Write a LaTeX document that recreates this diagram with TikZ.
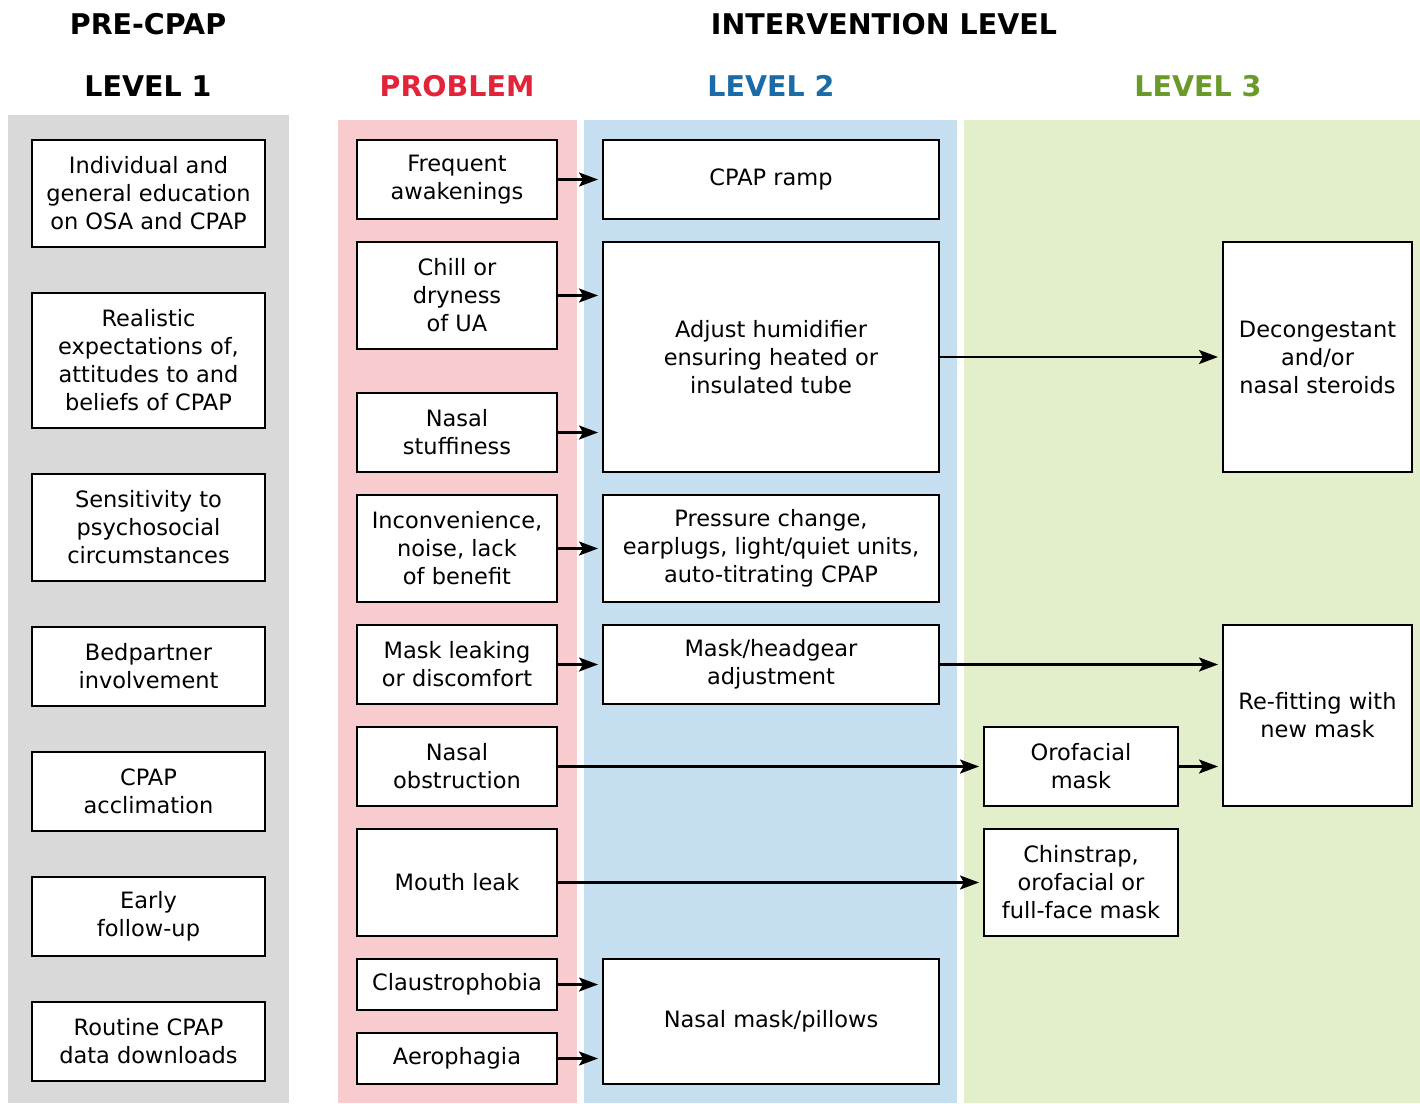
\documentclass[tikz,border=0pt]{standalone}
\usepackage{fontspec}
\setmainfont{DejaVu Sans}
\usepackage{tikz}
\usetikzlibrary{arrows.meta, positioning}
\definecolor{greycol}{HTML}{D9D9D9}
\definecolor{pinkcol}{HTML}{F8CBCF}
\definecolor{bluecol}{HTML}{C5DFF0}
\definecolor{greencol}{HTML}{E2EFCA}
\definecolor{probred}{HTML}{E2243A}
\definecolor{lvltwoblue}{HTML}{1B6BA6}
\definecolor{lvlthreegreen}{HTML}{6A9A2A}

\begin{document}
\begin{tikzpicture}[
    x=1pt, y=-1pt,
    node distance=23pt,
    head/.style={font=\fontsize{28.5}{32}\selectfont\bfseries},
    box/.style={
        rectangle, draw=black, fill=white, line width=2.2pt, outer sep=0pt,
        inner sep=0pt, align=center, font=\fontsize{22.5}{28}\selectfont
    },
    lone/.style={box, minimum width=233pt},
    pbox/.style={box, minimum width=200pt},
    ltwo/.style={box, minimum width=336pt},
    lthree/.style={box, minimum width=194pt},
    arrow/.style={-{Stealth[length=19pt, width=14pt, inset=4pt]}, line width=2.2pt, shorten >=5pt}
]
    \useasboundingbox (0,0) rectangle (1420,1103);
    \fill[greycol] (8,115) rectangle (289,1103);
    \fill[pinkcol] (338,120) rectangle (577,1103);
    \fill[bluecol] (584,120) rectangle (957,1103);
    \fill[greencol] (964,120) rectangle (1420,1103);

    \node[head] (precpap) at (148,24) {PRE-CPAP};
    \node[head] (intlevel) at (884,24) {INTERVENTION LEVEL};
    \node[head] (lvlone) at (148,86) {LEVEL 1};
    \node[head, text=probred] (problem) at (457,86) {PROBLEM};
    \node[head, text=lvltwoblue] (lvltwo) at (771,86) {LEVEL 2};
    \node[head, text=lvlthreegreen] (lvlthree) at (1198,86) {LEVEL 3};

    \node[lone, minimum height=107pt, anchor=north] (edu) at (148.5,140) {Individual and\\general education\\on OSA and CPAP};
    \node[lone, minimum height=135pt, below=46pt of edu] (expect) {Realistic\\expectations of,\\attitudes to and\\beliefs of CPAP};
    \node[lone, minimum height=107pt, below=46pt of expect] (psycho) {Sensitivity to\\psychosocial\\circumstances};
    \node[lone, minimum height=79pt, below=46pt of psycho] (partner) {Bedpartner\\involvement};
    \node[lone, minimum height=79pt, below=46pt of partner] (acclim) {CPAP\\acclimation};
    \node[lone, minimum height=79pt, below=46pt of acclim] (followup) {Early\\follow-up};
    \node[lone, minimum height=79pt, below=46pt of followup] (download) {Routine CPAP\\data downloads};

    \node[pbox, minimum height=79pt, anchor=north] (freq) at (457,140) {Frequent\\awakenings};
    \node[pbox, minimum height=107pt, below=of freq] (chill) {Chill or\\dryness\\of UA};
    \node[pbox, minimum height=79pt, below=44pt of chill] (stuff) {Nasal\\stuffiness};
    \node[pbox, minimum height=107pt, below=of stuff] (incon) {Inconvenience,\\noise, lack\\of benefit};
    \node[pbox, minimum height=79pt, below=of incon] (leak) {Mask leaking\\or discomfort};
    \node[pbox, minimum height=79pt, below=of leak] (obstr) {Nasal\\obstruction};
    \node[pbox, minimum height=107pt, below=of obstr] (mouth) {Mouth leak};
    \node[pbox, minimum height=51pt, below=of mouth] (claus) {Claustrophobia};
    \node[pbox, minimum height=51pt, below=of claus] (aero) {Aerophagia};

    \node[ltwo, minimum height=79pt, right=46pt of freq] (ramp) {CPAP ramp};
    \node[ltwo, minimum height=230pt, right=46pt of chill.north east, anchor=north west] (humid) {Adjust humidifier\\ensuring heated or\\insulated tube};
    \node[ltwo, minimum height=107pt, right=46pt of incon] (press) {Pressure change,\\earplugs, light/quiet units,\\auto-titrating CPAP};
    \node[ltwo, minimum height=79pt, right=46pt of leak] (headgear) {Mask/headgear\\adjustment};
    \node[ltwo, minimum height=125pt, right=46pt of claus.north east, anchor=north west] (nmask) {Nasal mask/pillows};

    \node[lthree, minimum height=79pt, right=427pt of obstr] (oro) {Orofacial\\mask};
    \node[lthree, minimum height=107pt, right=427pt of mouth] (chin) {Chinstrap,\\orofacial or\\full-face mask};
    \node[lthree, minimum width=189pt, minimum height=230pt, right=284pt of humid] (decong) {Decongestant\\and/or\\nasal steroids};
    \node[lthree, minimum width=189pt, minimum height=181pt, right=284pt of headgear.north east, anchor=north west] (refit) {Re-fitting with\\new mask};

    \draw[arrow] (freq) -- (ramp);
    \draw[arrow] (chill) -- (chill -| humid.west);
    \draw[arrow] (stuff) -- (stuff -| humid.west);
    \draw[arrow] (incon) -- (press);
    \draw[arrow] (leak) -- (headgear);
    \draw[arrow] (humid) -- (decong);
    \draw[arrow] (headgear) -- (headgear -| refit.west);
    \draw[arrow] (obstr) -- (oro);
    \draw[arrow] (oro) -- (oro -| refit.west);
    \draw[arrow] (mouth) -- (chin);
    \draw[arrow] (claus) -- (claus -| nmask.west);
    \draw[arrow] (aero) -- (aero -| nmask.west);
\end{tikzpicture}
\end{document}
